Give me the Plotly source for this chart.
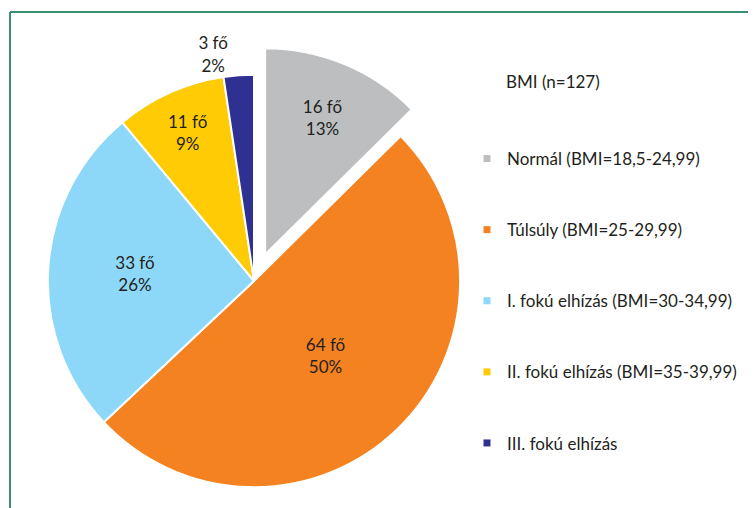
import plotly.graph_objects as go

labels = ["Normál (BMI=18,5-24,99)", "Túlsúly (BMI=25-29,99)",
          "I. fokú elhízás (BMI=30-34,99)", "II. fokú elhízás (BMI=35-39,99)",
          "III. fokú elhízás"]
counts = [16, 64, 33, 11, 3]
colors = ["#BCBEC0", "#F58220", "#8DD8F8", "#FFCB05", "#2E3192"]
pull = [0.14, 0, 0, 0, 0]
legend_title = "BMI (n=127)"

_INK = "#231F20"
_FRAME = "#3A8F6E"
_FONT = "Lato"
W, H = 756, 508
# the page body adds an 8px offset, so positions below are page coords minus 8

fig = go.Figure()
fig.add_trace(go.Pie(labels=labels, values=counts, pull=pull, sort=False,
                     direction="clockwise", rotation=0,
                     marker=dict(colors=colors, line=dict(color="white", width=2)),
                     texttemplate="%{value} fő<br>%{percent:.0%}",
                     textposition="auto", insidetextorientation="horizontal",
                     textfont=dict(family=_FONT, size=17, color=_INK),
                     showlegend=False,
                     domain=dict(x=[11 / W, 481 / W], y=[0, 470 / H])))

# legend entries as separate groups so they can be spaced like the original
for name, col in zip(labels, colors):
    fig.add_trace(go.Scatter(x=[None], y=[None], mode="markers", name=name,
                             legendgroup=name, hoverinfo="skip",
                             marker=dict(symbol="square", size=7, color=col)))

fig.update_layout(
    width=W, height=H, margin=dict(l=0, r=0, t=0, b=0, autoexpand=False),
    paper_bgcolor="white", plot_bgcolor="white",
    font=dict(family=_FONT, size=17, color=_INK),
    xaxis=dict(visible=False), yaxis=dict(visible=False),
    legend=dict(x=459 / W, y=1 - 133 / H, xanchor="left", yanchor="top",
                traceorder="grouped", tracegroupgap=46,
                font=dict(family=_FONT, size=17, color=_INK)),
    annotations=[dict(text=legend_title, x=496 / W, y=1 - 74 / H, xref="paper", yref="paper",
                      xanchor="left", yanchor="middle", showarrow=False)],
    shapes=[dict(type="line", xref="paper", yref="paper", x0=2 / W, x1=2 / W, y0=0, y1=1 - 4 / H,
                 line=dict(color=_FRAME, width=2)),
            dict(type="line", xref="paper", yref="paper", x0=2 / W, x1=1, y0=1 - 4 / H, y1=1 - 4 / H,
                 line=dict(color=_FRAME, width=2))],
)

fig.write_html("out.html")
